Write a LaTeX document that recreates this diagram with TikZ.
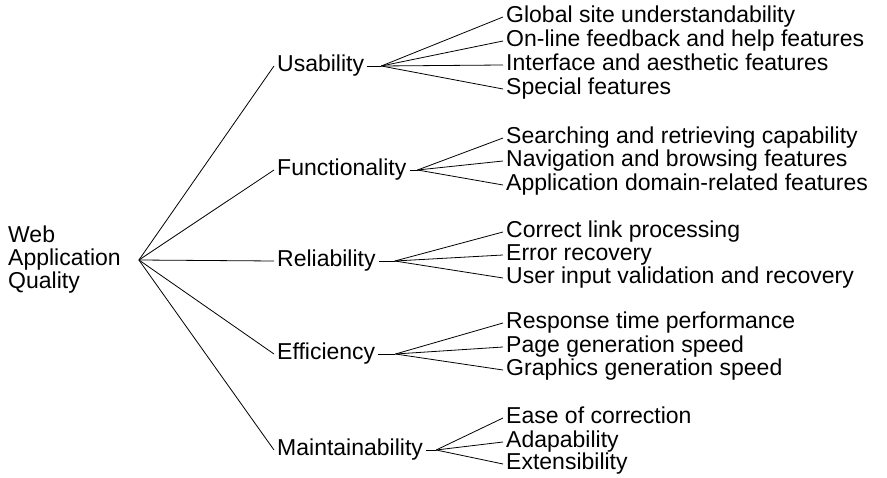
\documentclass[tikz,border=0pt]{standalone}
\usepackage{fontspec}
\setmainfont{Liberation Sans}
\usetikzlibrary{positioning}

\begin{document}
\begin{tikzpicture}[x=1pt, y=-1pt,
    rotulo/.style={anchor=west, inner sep=3pt, font=\fontsize{23}{23}\selectfont},
    item/.style={rotulo, text height=16pt, text depth=5pt},
    ramo/.style={line width=0.8pt}]
    \useasboundingbox (0,0) rectangle (887,478);

    % Raiz
    \node[rotulo, align=left] (web) at (5,260) {Web\\Application\\Quality};
    \coordinate[right=15pt of web] (raiz);

    % Caracteristicas
    \node[item] (usab) at (274,66) {Usability};
    \node[item] (func) at (274,170) {Functionality};
    \node[item] (conf) at (274,261) {Reliability};
    \node[item] (efic) at (274,354) {Efficiency};
    \node[item] (manut) at (274,450) {Maintainability};

    \draw[ramo] (raiz) -- (usab.west);
    \draw[ramo] (raiz) -- (func.west);
    \draw[ramo] (raiz) -- (conf.west);
    \draw[ramo] (raiz) -- (efic.west);
    \draw[ramo] (raiz) -- (manut.west);

    % Pontos de convergencia
    \coordinate[right=14pt of usab] (usabfan);
    \coordinate[right=8pt of func] (funcfan);
    \coordinate[right=16pt of conf] (conffan);
    \coordinate[right=17pt of efic] (eficfan);
    \coordinate[right=10pt of manut] (manutfan);

    \draw[ramo] (usab.east) -- (usabfan);
    \draw[ramo] (func.east) -- (funcfan);
    \draw[ramo] (conf.east) -- (conffan);
    \draw[ramo] (efic.east) -- (eficfan);
    \draw[ramo] (manut.east) -- (manutfan);

    % Subcaracteristicas - Usability
    \node[item] (global) at (503,17) {Global site understandability};
    \node[item] (online) at (503,41) {On-line feedback and help features};
    \node[item] (interf) at (503,65) {Interface and aesthetic features};
    \node[item] (especial) at (503,89) {Special features};
    \draw[ramo] (usabfan) -- (global.west);
    \draw[ramo] (usabfan) -- (online.west);
    \draw[ramo] (usabfan) -- (interf.west);
    \draw[ramo] (usabfan) -- (especial.west);

    % Subcaracteristicas - Functionality
    \node[item] (busca) at (503,138) {Searching and retrieving capability};
    \node[item] (naveg) at (503,161) {Navigation and browsing features};
    \node[item] (dominio) at (503,185) {Application domain-related features};
    \draw[ramo] (funcfan) -- (busca.west);
    \draw[ramo] (funcfan) -- (naveg.west);
    \draw[ramo] (funcfan) -- (dominio.west);

    % Subcaracteristicas - Reliability
    \node[item] (links) at (503,232) {Correct link processing};
    \node[item] (erro) at (503,255) {Error recovery};
    \node[item] (entrada) at (503,278) {User input validation and recovery};
    \draw[ramo] (conffan) -- (links.west);
    \draw[ramo] (conffan) -- (erro.west);
    \draw[ramo] (conffan) -- (entrada.west);

    % Subcaracteristicas - Efficiency
    \node[item] (resposta) at (503,323) {Response time performance};
    \node[item] (pagina) at (503,347) {Page generation speed};
    \node[item] (grafico) at (503,370) {Graphics generation speed};
    \draw[ramo] (eficfan) -- (resposta.west);
    \draw[ramo] (eficfan) -- (pagina.west);
    \draw[ramo] (eficfan) -- (grafico.west);

    % Subcaracteristicas - Maintainability
    \node[item] (correcao) at (503,418) {Ease of correction};
    \node[item] (adapt) at (503,442) {Adapability};
    \node[item] (extens) at (503,464) {Extensibility};
    \draw[ramo] (manutfan) -- (correcao.west);
    \draw[ramo] (manutfan) -- (adapt.west);
    \draw[ramo] (manutfan) -- (extens.west);

\end{tikzpicture}
\end{document}
